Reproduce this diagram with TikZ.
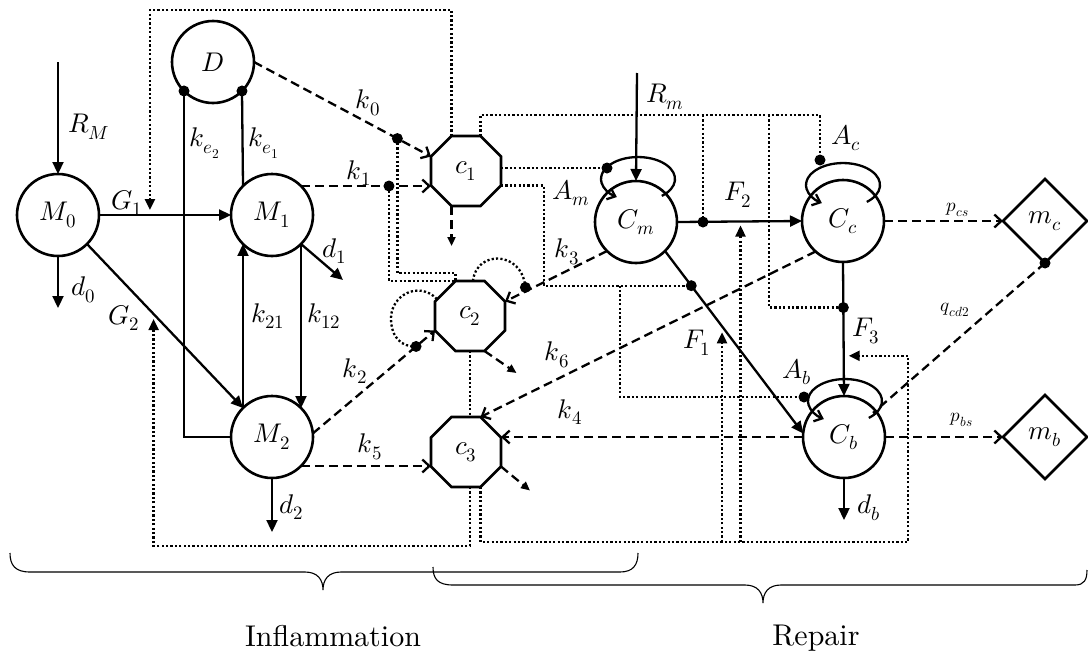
\documentclass[tikz,border=0pt]{standalone}
\usepackage{unicode-math}
\usetikzlibrary{arrows.meta,shapes.geometric,calc}
\newcommand\lblfont{\fontsize{27}{31}\selectfont}
\newcommand\smlfont{\fontsize{19}{22}\selectfont}
\font\bigfnt="[lmroman10-regular]" at 30pt
\begin{document}
\begin{tikzpicture}[x=1pt,y=-1pt,
  every node/.style={inner sep=0pt,outer sep=0pt},
  st/.style={circle,draw,line width=2.6pt,minimum size=82pt,font=\lblfont},
  oct/.style={regular polygon,regular polygon sides=8,draw,line width=2.6pt,minimum size=75.8pt,font=\lblfont},
  dia/.style={diamond,draw,line width=2.6pt,minimum width=84pt,minimum height=84pt,font=\lblfont},
  flow/.style={line width=2.3pt,-{Triangle[length=12pt,width=11pt]}},
  plain/.style={line width=2.3pt},
  dsh/.style={line width=2.3pt,dash pattern=on 9pt off 5pt},
  dsharr/.style={dsh,-{Straight Barb[length=7pt,width=13pt]}},
  decay/.style={dsh,-{Triangle[length=9pt,width=8pt]}},
  dot/.style={line width=2.3pt,dash pattern=on 2.2pt off 2.2pt},
  dotarr/.style={dot,-{Triangle[length=11pt,width=10pt]}},
  loopst/.style={line width=2.3pt,-{Straight Barb[length=7pt,width=12pt]}},
  lbl/.style={font=\lblfont},
  slbl/.style={font=\smlfont},
  brc/.style={line width=1.1pt},
]
\useasboundingbox (0,0) rectangle (1088,656);

% ---- nodes
\node[st] (M0) at (58,215) {$M_0$};
\node[st] (D) at (213,62) {$D$};
\node[st] (M1) at (272,215) {$M_1$};
\node[st] (M2) at (272,437) {$M_2$};
\node[oct] (c1) at (466,171) {$c_1$};
\node[oct] (c2) at (470,316) {$c_2$};
\node[oct] (c3) at (466,452) {$c_3$};
\node[st] (Cm) at (636,222) {$C_m$};
\node[st] (Cc) at (843,221) {$C_c$};
\node[st] (Cb) at (844,437) {$C_b$};
\node[dia] (mc) at (1045,221) {$m_c$};
\node[dia] (mb) at (1045,437) {$m_b$};

% ---- octagon corners
\coordinate (c1tl) at ($(c1)+(-14.5,-35)$);
\coordinate (c1tr) at ($(c1)+(14.5,-35)$);
\coordinate (c1bl) at ($(c1)+(-14.5,35)$);
\coordinate (c1ul) at ($(c1)+(-35,-14.5)$);
\coordinate (c1er) at ($(c1)+(35,14.5)$);
\coordinate (c2tl) at ($(c2)+(-14.5,-35)$);
\coordinate (c2ur) at ($(c2)+(35,-14.5)$);
\coordinate (c2ll) at ($(c2)+(-35,14.5)$);
\coordinate (c2br) at ($(c2)+(14.5,35)$);
\coordinate (c3tr) at ($(c3)+(14.5,-35)$);
\coordinate (c3br) at ($(c3)+(14.5,35)$);
\coordinate (c3rl) at ($(c3)+(35,14.5)$);

% ---- free ends and helpers
\coordinate (RMs) at (58,62);
\coordinate (d0e) at (58,308);
\coordinate (d1e) at (343,280);
\coordinate (d2e) at (272,532);
\coordinate (Rms) at (637,73);
\coordinate (dbe) at (844,520);
\coordinate (qe) at ($(Cb)+(29,-24)$);
\coordinate (ytop) at (0,10);
\coordinate (ymid) at (0,115);
\coordinate (ybot) at (0,546);
\coordinate (cr) at (908,542);
\coordinate (xj2) at (620,0);
\coordinate (xj3) at (769,0);
\coordinate (bAm) at ($(Cm)+(-29,-54)$);
\coordinate (bAc) at ($(Cc)+(-23,-61)$);
\coordinate (bAb) at ($(Cb)+(-40,-40)$);

% ---- solid flows
\draw[flow] (RMs) -- (M0.north);
\draw[flow] (M0.south) -- (d0e);
\draw[flow] (M0.east) -- coordinate[pos=0.386] (G1p) (M1.west);
\draw[flow] (M0.-45) -- coordinate[pos=0.427] (G2p) (M2.135);
\draw[flow] (M2.135) -- (M1.-135);
\draw[flow] (M1.-45) -- (M2.45);
\draw[flow] (M1.-45) -- (d1e);
\draw[flow] (M2.south) -- (d2e);
\draw[plain] (D.-45) -- (M1.135);
\draw[plain] (D.-135) |- (M2.west);
\draw[flow] (Rms) -- (Cm.north);
\draw[flow] (Cm.east) -- coordinate[pos=0.5] (F2p) (Cc.west);
\draw[flow] (Cm.-45) -- coordinate[pos=0.19] (bF1) coordinate[pos=0.413] (F1p) (Cb.175);
\draw[flow] (Cc.south) -- coordinate[pos=0.34] (bF3) coordinate[pos=0.7] (F3p) (Cb.north);
\draw[flow] (Cb.south) -- (dbe);
\coordinate (bF2) at ($(Cm.east)+(26,0)$);
\coordinate (G1a) at ($(G1p)+(0,-5)$);
\coordinate (G2a) at ($(G2p)+(0,5)$);
\coordinate (F1a) at ($(F1p)+(0,6)$);
\coordinate (F2a) at ($(F2p)+(1,4)$);
\coordinate (F3a) at ($(F3p)+(5,0)$);

% ---- self loops
\draw[loopst] ($(Cm)+(25.8,-26.1)$) arc[start angle=-50,end angle=235,x radius=37pt,y radius=22pt];
\draw[loopst] ($(Cc)+(23.8,-19.1)$) arc[start angle=-50,end angle=235,x radius=37pt,y radius=22pt];
\draw[loopst] ($(Cb)+(24.8,-19.1)$) arc[start angle=-50,end angle=235,x radius=37pt,y radius=22pt];

% ---- dashed rates
\draw[dsharr] (D.east) -- coordinate[pos=0.81] (bk0) (c1ul);
\draw[dsharr] (M1.45) -- (M1.45 -| c1.west);
\coordinate (bk1) at ($(M1.45 -| c1.west)+(-42,0)$);
\draw[dsharr] (M2.5) -- coordinate[pos=0.845] (bk2) (c2ll);
\draw[dsharr] (M2.-45) -- (M2.-45 -| c3.west);
\draw[dsharr] (Cm.-135) -- coordinate[pos=0.8] (bk3p) (c2ur);
\coordinate (bk3) at ($(bk3p)+(0,-4)$);
\draw[dsharr] (Cc.-132) -- (c3tr);
\draw[dsharr] (Cb.west) -- (Cb.west -| c3.east);
\draw[dsharr] (Cc.east) -- (mc.west);
\draw[dsharr] (Cb.east) -- (mb.west);
\draw[dsh] (mc.south) -- (qe);
\draw[decay] (c1bl) -- ++(0,40);
\draw[decay] (c2br) -- ++(32,22);
\draw[decay] (c3rl) -- ++(29,24);

% ---- dotted regulation lines
\draw[dotarr] (c1tl) -- (c1tl |- ytop) -| (G1a);
\draw[dot] (c1tr) -- (c1tr |- ymid) -| (bAc);
\draw[dot] (bF2 |- ymid) -- (bF2);
\draw[dot] (xj3 |- ymid) |- (bF3);
\draw[dot] (bAm -| c1.east) -- (bAm);
\draw[dot] (c1er) -- ++(43,0) |- (bF1);
\draw[dot] (bF1 -| xj2) |- (bAb);
\draw[dot] (bk0) |- ($(c2tl)+(0,-8)$) -- (c2tl);
\draw[dot] (bk1) |- (c2tl);
\draw[dot] ($(c2)+(3,-35)$) .. controls (476,250) and (522,250) .. (bk3);
\draw[dot] ($(c2)+(-33,-17)$) .. controls (418,280) and (391,296) .. (391,318) .. controls (391,338) and (402,347) .. (bk2);
\draw[dot] (c2.south) -- (c2.south |- c3.north);
\draw[dotarr] (c2.south |- c3.south) -- (c2.south |- ybot) -| (G2a);
\draw[dotarr] (c3br) |- (cr) |- (F3a);
\draw[dotarr] (F1a |- cr) -- (F1a);
\draw[dotarr] (F2a |- cr) -- (F2a);

% ---- bullets
\foreach \p in {bk0,bk1,bk2,bk3,bF1,bF2,bF3,bAm,bAc,bAb,D.-45,D.-135,mc.south}
  \fill (\p) circle[radius=5.5pt];

% ---- labels
\node[lbl] (lRM) at (89,127) {$R_M$};
\node[lbl] (ld0) at (83,290) {$d_0$};
\node[lbl] (lG1) at (127,203) {$G_1$};
\node[lbl] (lG2) at (124,318) {$G_2$};
\node[lbl] (lke2) at (205,143) {$k_{e_2}$};
\node[lbl] (lke1) at (264,143) {$k_{e_1}$};
\node[lbl] (lk21) at (268,316) {$k_{21}$};
\node[lbl] (lk12) at (324,316) {$k_{12}$};
\node[lbl] (ld1) at (334,251) {$d_1$};
\node[lbl] (ld2) at (291,507) {$d_2$};
\node[lbl] (lk0) at (368,103) {$k_0$};
\node[lbl] (lk1) at (359,173) {$k_1$};
\node[lbl] (lk2) at (355,371) {$k_2$};
\node[lbl] (lk5) at (370,447) {$k_5$};
\node[lbl] (lk3) at (567,252) {$k_3$};
\node[lbl] (lk6) at (557,355) {$k_6$};
\node[lbl] (lk4) at (570,412) {$k_4$};
\node[lbl] (lAm) at (571,193) {$A_m$};
\node[lbl] (lRm) at (665,97) {$R_m$};
\node[lbl] (lF2) at (738,195) {$F_2$};
\node[lbl] (lAc) at (846,138) {$A_c$};
\node[lbl] (lF1) at (697,343) {$F_1$};
\node[lbl] (lF3) at (866,331) {$F_3$};
\node[lbl] (lAb) at (797,372) {$A_b$};
\node[lbl] (ldb) at (869,508) {$d_b$};
\node[slbl] (lpcs) at (958,210) {$p_{cs}$};
\node[slbl] (lpbs) at (962,420) {$p_{bs}$};
\node[slbl] (lq) at (955,310) {$q_{cd2}$};

% ---- braces
\draw[brc] (10,553) .. controls (10,565) and (15,572) .. (30,572) -- (305,572)
  .. controls (318,572) and (323,580) .. (323,590)
  .. controls (323,580) and (328,572) .. (341,572) -- (620,572)
  .. controls (633,572) and (638,565) .. (638,553);
\draw[brc] (433,567) .. controls (433,579) and (438,585) .. (453,585) -- (745,585)
  .. controls (758,585) and (763,593) .. (763,603)
  .. controls (763,593) and (768,585) .. (781,585) -- (1075,585)
  .. controls (1084,585) and (1087,580) .. (1087,570);
\node[font=\bigfnt] (tInf) at (333,636) {Inflammation};
\node[font=\bigfnt] (tRep) at (816,638) {Repair};
\end{tikzpicture}
\end{document}
